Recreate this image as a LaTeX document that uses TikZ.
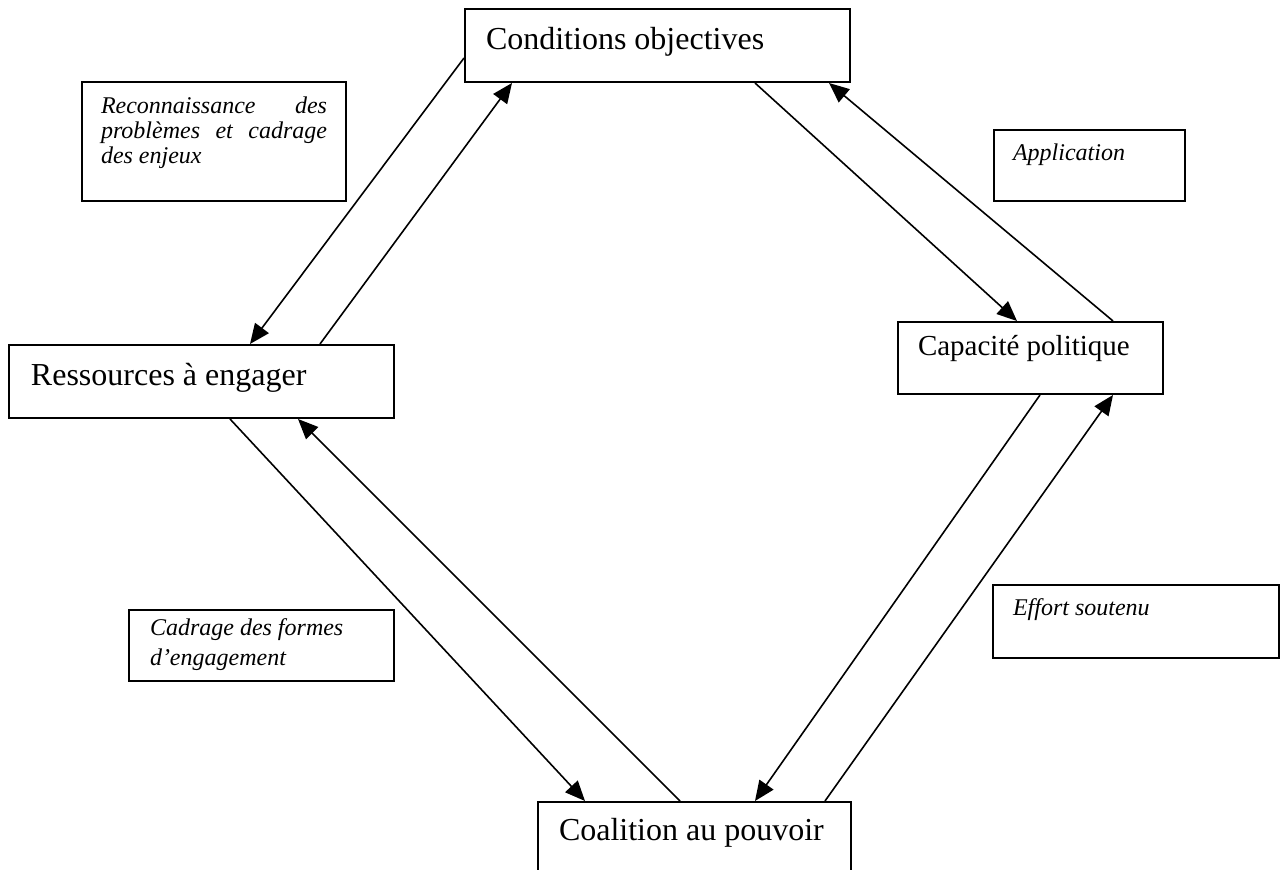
\documentclass[tikz,border=0pt]{standalone}
\usepackage{fontspec}
\setmainfont{Liberation Serif}
\usetikzlibrary{arrows.meta}
\tikzstyle{box}  =[draw, line width=1pt, anchor=north west,
                   inner ysep=0pt, align=flush left,
                   font=\fontsize{16}{19}\selectfont]
\tikzstyle{note} =[draw, line width=1pt, anchor=north west,
                   inner ysep=0pt, align=flush left,
                   font=\fontsize{12}{12.5}\selectfont\itshape]
\tikzstyle{flow} =[-{Triangle[length=10pt,width=8.5pt]},
                   line width=0.8pt]

\begin{document}
\begin{tikzpicture}[x=0.5pt, y=-0.5pt]
            \useasboundingbox (0,0) rectangle (1280,870);
            \clip (0,0) rectangle (1280,870);
            \node (cond) [box, inner xsep=10.5pt, text width=171.5pt,
                text height=20.5pt, text depth=16pt] at (464,8)
                {Conditions objectives};
            \node (ress) [box, inner xsep=11pt, text width=170.5pt,
                text height=20.5pt, text depth=16pt] at (8,344)
                {Ressources à engager};
            \node (capa) [box, inner xsep=10pt, text width=112.5pt,
                text height=17pt, text depth=19pt,
                font=\fontsize{14.5}{17}\selectfont] at (897,321)
                {Capacité politique};
            \node (coal) [box, inner xsep=10.5pt, text width=135.5pt,
                text height=19.5pt, text depth=17pt] at (537,801)
                {Coalition au pouvoir};
            \node (reco) [note, inner xsep=9.5pt, text width=113pt,
                text height=16pt, text depth=43.5pt] at (81,81)
                {Reconnaissance\hfill des\\problèmes\hfill et\hfill cadrage\\des enjeux};
            \node (appl) [note, inner xsep=9.5pt, text width=76.5pt,
                text height=15.5pt, text depth=20pt] at (993,129)
                {Application};
            \node (cadr) [note, inner xsep=10.5pt, text width=111.5pt,
                text height=13pt, text depth=22.5pt,
                font=\fontsize{12}{15}\selectfont\itshape] at (128,609)
                {Cadrage des formes\\d’engagement};
            \node (effo) [note, inner xsep=10pt, text width=123pt,
                text height=15.5pt, text depth=21pt] at (992,584)
                {Effort soutenu};

            \draw [flow] ([yshift=-6.25pt]cond.west) to ([xshift=121pt]ress.north west);
            \draw [flow] ([xshift=156pt]ress.north west) to ([xshift=24pt]cond.south west);
            \draw [flow] ([xshift=-48pt]cond.south east) to ([xshift=60pt]capa.north west);
            \draw [flow] ([xshift=108pt]capa.north west) to ([xshift=-11pt]cond.south east);
            \draw [flow] ([xshift=111pt]ress.south west) to ([xshift=24pt]coal.north west);
            \draw [flow] ([xshift=71.5pt]coal.north west) to ([xshift=145pt]ress.south west);
            \draw [flow] ([xshift=71.5pt]capa.south west) to ([xshift=109pt]coal.north west);
            \draw [flow] ([xshift=144pt]coal.north west) to ([xshift=108pt]capa.south west);

        \end{tikzpicture}
\end{document}
